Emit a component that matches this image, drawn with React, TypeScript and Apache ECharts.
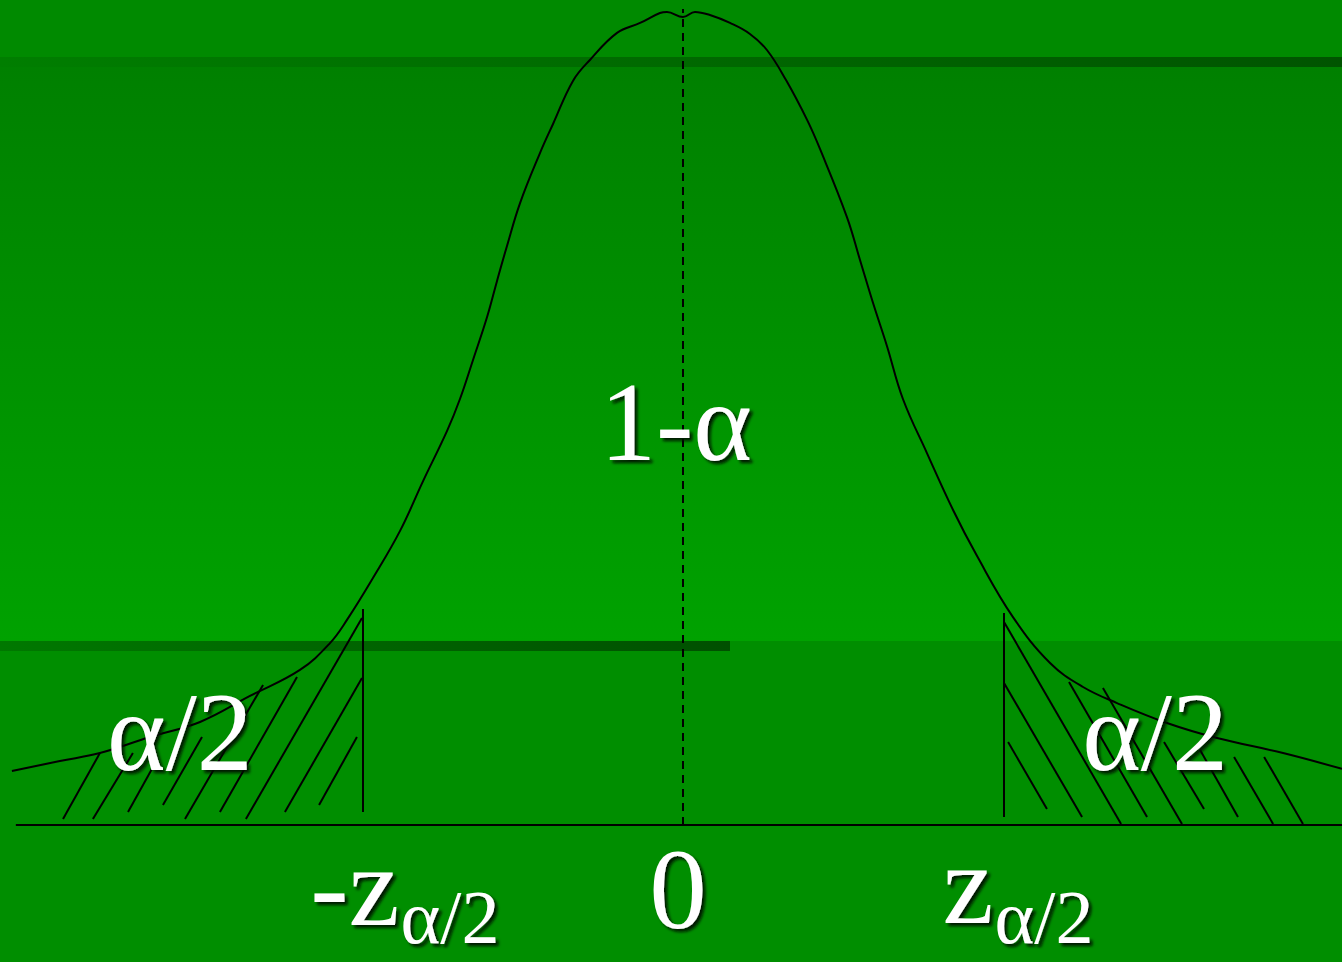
import React, { useEffect, useRef } from "react";
import * as echarts from "echarts";

// axis extents in z / density units
const X_MIN = -4.183;
const X_MAX = 4.036;
const Y_MIN = -0.0674;
const Y_MAX = 0.4059;

// curve (z, density)
const curveZ = [
  -4.11, -3.816, -3.571, -3.265, -2.958, -2.652, -2.346, -2.162, -2.058, -1.899,
  -1.733, -1.592, -1.445, -1.366, -1.286, -1.2, -1.139, -1.078, -0.998, -0.876,
  -0.796, -0.674, -0.57, -0.404, -0.263, -0.141, -0.098, 0, 0.0735, 0.165,
  0.288, 0.41, 0.514, 0.631, 0.76, 0.839, 1.004, 1.084, 1.164, 1.249,
  1.347, 1.494, 1.654, 1.801, 2.021, 2.248, 2.45, 2.658, 2.964,
  3.271, 3.675, 4.036,
];
const curveDensity = [
  0.0266, 0.0315, 0.0354, 0.0433, 0.0507, 0.0635, 0.0763, 0.0895, 0.1009, 0.1215,
  0.1447, 0.1692, 0.1939, 0.2096, 0.2288, 0.2499, 0.2677, 0.2849, 0.306, 0.3306,
  0.3449, 0.3661, 0.3764, 0.3897, 0.3946, 0.3995, 0.4, 0.3975, 0.4, 0.3985,
  0.3946, 0.3892, 0.3813, 0.3665, 0.3469, 0.3326, 0.2991, 0.278, 0.2568, 0.2357,
  0.2096, 0.183, 0.155, 0.1323, 0.1023, 0.0797, 0.0679, 0.06, 0.0502,
  0.0428, 0.0354, 0.0276,
];

// hatch segments [z1, d1, z2, d2]
const leftHatch = [
  [-3.797, 0.003, -3.571, 0.0354],
  [-3.614, 0.003, -3.369, 0.0354],
  [-3.399, 0.0064, -3.222, 0.032],
  [-3.185, 0.0098, -2.946, 0.0433],
  [-3.05, 0.003, -2.572, 0.0689],
  [-2.836, 0.0064, -2.364, 0.0728],
  [-2.677, 0.003, -1.966, 0.1018],
  [-2.438, 0.0064, -1.966, 0.0723],
  [-2.229, 0.0098, -1.997, 0.0433],
];
const rightHatch = [
  [1.966, 0.0999, 2.683, 0.0005],
  [1.966, 0.0699, 2.444, 0.0039],
  [1.991, 0.0408, 2.229, 0.0079],
  [2.364, 0.0704, 2.842, 0.0039],
  [2.572, 0.0674, 3.056, 0.0005],
  [2.946, 0.0408, 3.191, 0.0079],
  [3.167, 0.0369, 3.399, 0.0039],
  [3.375, 0.0335, 3.614, 0.0005],
  [3.559, 0.0335, 3.797, 0.0005],
];
const criticalLines = [
  [-1.96, 0.0064, -1.96, 0.1063],
  [1.966, 0.0039, 1.966, 0.1043],
];
const baseLine = [-4.086, 0, 4.036, 0];
const centerLine = [0, 0, 0, 0.4015];

// annotation texts and their anchor (z, density)
const labelTexts = ["1-α", "α/2", "α/2", "0", "-z", "α/2", "z", "α/2"];
const labelAnchors = [
  [-0.043, 0.1983],
  [-3.081, 0.0458],
  [2.891, 0.0458],
  [-0.031, -0.0315],
  [-2.009, -0.0305],
  [-1.427, -0.0453],
  [1.746, -0.0295],
  [2.211, -0.0453],
];
const labelSizes = [112, 112, 112, 115, 115, 76, 115, 76];

const SERIF = "Liberation Serif, DejaVu Serif, Times New Roman, Noto Serif, serif";

const toSeg = (s: number[]) => ({ coords: [[s[0], s[1]], [s[2], s[3]]] });

export default function App() {
  const ref = useRef<HTMLDivElement>(null);

  useEffect(() => {
    if (!ref.current) return;
    const chart = echarts.init(ref.current, undefined, { renderer: "svg" });
    const LG = echarts.graphic.LinearGradient;

    const option: any = {
      animation: false,
      backgroundColor: "#008e00",
      textStyle: { fontFamily: SERIF },
      grid: { left: 0, right: 0, top: 0, bottom: 0 },
      xAxis: { type: "value", min: X_MIN, max: X_MAX, show: false },
      yAxis: { type: "value", min: Y_MIN, max: Y_MAX, show: false },
      graphic: [
        { type: "rect", z: 0, shape: { x: 0, y: 0, width: 1342, height: 57 }, style: { fill: "#008a00" } },
        {
          type: "rect", z: 0, shape: { x: 0, y: 57, width: 1342, height: 10 },
          style: { fill: new LG(0, 0, 1, 0, [{ offset: 0, color: "#007e00" }, { offset: 1, color: "#005400" }]) },
        },
        {
          type: "rect", z: 0, shape: { x: 0, y: 67, width: 1342, height: 574 },
          style: { fill: new LG(0, 0, 0, 1, [{ offset: 0, color: "#008000" }, { offset: 1, color: "#00a200" }]) },
        },
        { type: "rect", z: 0, shape: { x: 0, y: 641, width: 1342, height: 321 }, style: { fill: "#008e00" } },
        {
          type: "rect", z: 0, shape: { x: 0, y: 641, width: 730, height: 10 },
          style: { fill: new LG(0, 0, 1, 0, [{ offset: 0, color: "#007800" }, { offset: 1, color: "#005000" }]) },
        },
      ],
      series: [
        {
          type: "line",
          data: curveZ.map((z, i) => [z, curveDensity[i]]),
          smooth: 0.4,
          showSymbol: false,
          lineStyle: { color: "#000", width: 2 },
          z: 5,
        },
        {
          type: "lines",
          coordinateSystem: "cartesian2d",
          data: [...leftHatch, ...rightHatch, ...criticalLines, baseLine].map(toSeg),
          lineStyle: { color: "#000", width: 2, opacity: 1 },
          z: 5,
        },
        {
          type: "lines",
          coordinateSystem: "cartesian2d",
          data: [centerLine].map(toSeg),
          lineStyle: { color: "#000", width: 2, opacity: 1, type: [8, 6] },
          z: 5,
        },
        {
          type: "scatter",
          symbolSize: 0,
          silent: true,
          z: 10,
          itemStyle: { opacity: 1 },
          data: labelTexts.map((t, i) => ({
            name: t,
            value: labelAnchors[i],
            label: { fontSize: labelSizes[i] },
          })),
          label: {
            show: true,
            position: "inside",
            formatter: (p: any) => p.name,
            color: "#ffffff",
            fontFamily: SERIF,
            align: "center",
            verticalAlign: "middle",
            textShadowColor: "rgba(0,10,0,0.9)",
            textShadowBlur: 3,
            textShadowOffsetX: 3,
            textShadowOffsetY: 3,
          },
          labelLayout: { hideOverlap: false },
        },
      ],
    };
    chart.setOption(option);
    return () => chart.dispose();
  }, []);

  return (
    <div
      ref={ref}
      style={{ position: "absolute", left: 0, top: 0, width: 1342, height: 962 }}
    />
  );
}
